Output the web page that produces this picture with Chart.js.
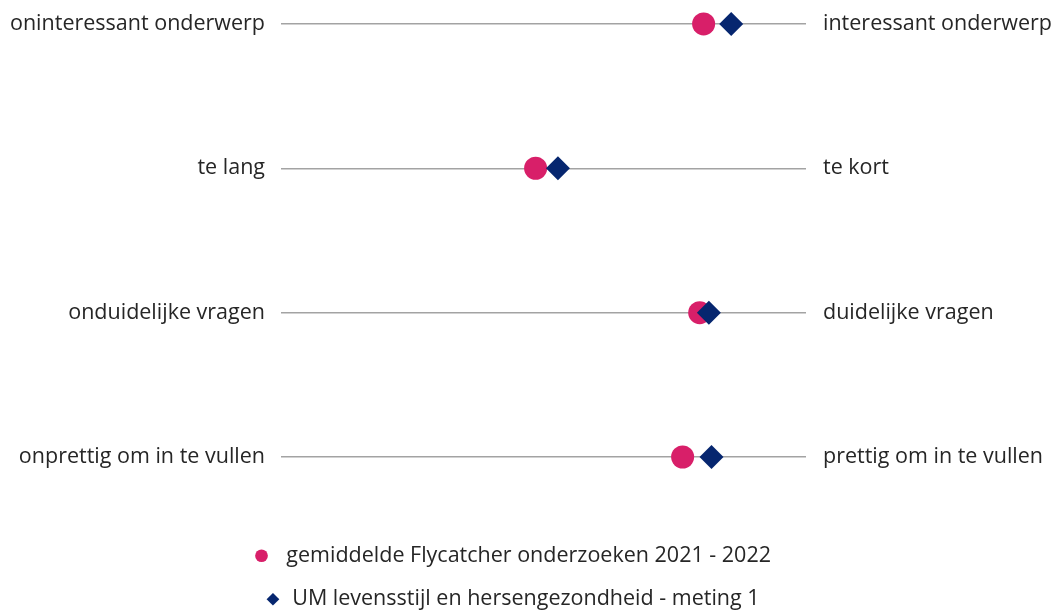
<!DOCTYPE html>
<html lang="nl">
<head>
<meta charset="UTF-8" />
<title>Evaluatie vragenlijst</title>
<script src="https://cdn.jsdelivr.net/npm/chart.js"></script>
<style>
    body { margin: 0; background: #fff; }
    #wrap { width: 1054px; height: 614px; }
</style>
</head>
<body>
<div id="wrap"><canvas id="chart"></canvas></div>
<script>
    // labels at the two ends of each row
    const leftLabels = ["oninteressant onderwerp", "te lang", "onduidelijke vragen", "onprettig om in te vullen"]
    const rightLabels = ["interessant onderwerp", "te kort", "duidelijke vragen", "prettig om in te vullen"]

    // scores (scale 1 - 5)
    const flycatcher = [4.22, 2.94, 4.19, 4.06]
    const umMeting1 = [4.43, 3.11, 4.26, 4.28]

    const seriesNames = [" gemiddelde Flycatcher onderzoeken 2021 - 2022", "UM levensstijl en hersengezondheid - meting 1"]

    const pink = "#d81f69"
    const navy = "#06266f"
    const font = { family: "'Open Sans', sans-serif", size: 21.5 }
    // tight line height so the first row can sit near the top edge
    const tickFont = { family: "'Open Sans', sans-serif", size: 21.5, lineHeight: 0.64 }

    const toPoints = (vals) => vals.map((v, i) => ({ x: v, y: leftLabels[i] }))

    // bottom legend: one entry per line, a bit left of centre
    const legendWrap = {
        id: "legendWrap",
        beforeLayout(chart) {
            const lg = chart.legend
            if (lg && !lg._wrapped) {
                const fit = lg.fit
                lg.fit = function () {
                    const full = this.maxWidth
                    this.maxWidth = 560
                    fit.call(this)
                    this.maxWidth = full
                }
                lg._wrapped = true
            }
        },
        afterLayout(chart) {
            chart.legend.left -= 15
            chart.legend.right -= 15
        },
    }

    new Chart(document.getElementById("chart"), {
        type: "scatter",
        data: {
            datasets: [
                {
                    label: seriesNames[0],
                    data: toPoints(flycatcher),
                    pointStyle: "circle",
                    pointRadius: 11.5,
                    backgroundColor: pink,
                    borderColor: pink,
                    borderWidth: 0,
                    order: 1,
                },
                {
                    label: seriesNames[1],
                    data: toPoints(umMeting1),
                    pointStyle: "rectRot",
                    pointRadius: 12,
                    backgroundColor: navy,
                    borderColor: navy,
                    borderWidth: 0,
                    order: 0,
                },
            ],
        },
        plugins: [legendWrap],
        options: {
            responsive: true,
            maintainAspectRatio: false,
            animation: false,
            clip: false,
            layout: { padding: { top: 0, bottom: -6 } },
            scales: {
                x: { type: "linear", min: 1, max: 5, display: false },
                y: {
                    type: "category",
                    labels: leftLabels,
                    offset: false,
                    position: "left",
                    border: { display: false },
                    grid: { color: "#a3a3a3", lineWidth: 1.5, drawTicks: false },
                    ticks: { color: "#262626", font: tickFont, padding: 16 },
                    afterFit: (s) => { s.width = 281 },
                },
                yRight: {
                    type: "category",
                    labels: rightLabels,
                    offset: false,
                    position: "right",
                    border: { display: false },
                    grid: { display: false, drawTicks: false },
                    ticks: { color: "#262626", font: tickFont, padding: 17 },
                    afterFit: (s) => { s.width = 248 },
                },
            },
            plugins: {
                tooltip: { enabled: false },
                legend: {
                    position: "bottom",
                    title: { display: true, text: "", font: { size: 10, lineHeight: 1.2 }, padding: { top: 27, bottom: 27 } },
                    labels: {
                        usePointStyle: true,
                        boxWidth: 17,
                        boxHeight: 9,
                        padding: 22,
                        color: "#262626",
                        font: font,
                        sort: (a, b) => a.datasetIndex - b.datasetIndex,
                    },
                },
            },
        },
    })
</script>
</body>
</html>
